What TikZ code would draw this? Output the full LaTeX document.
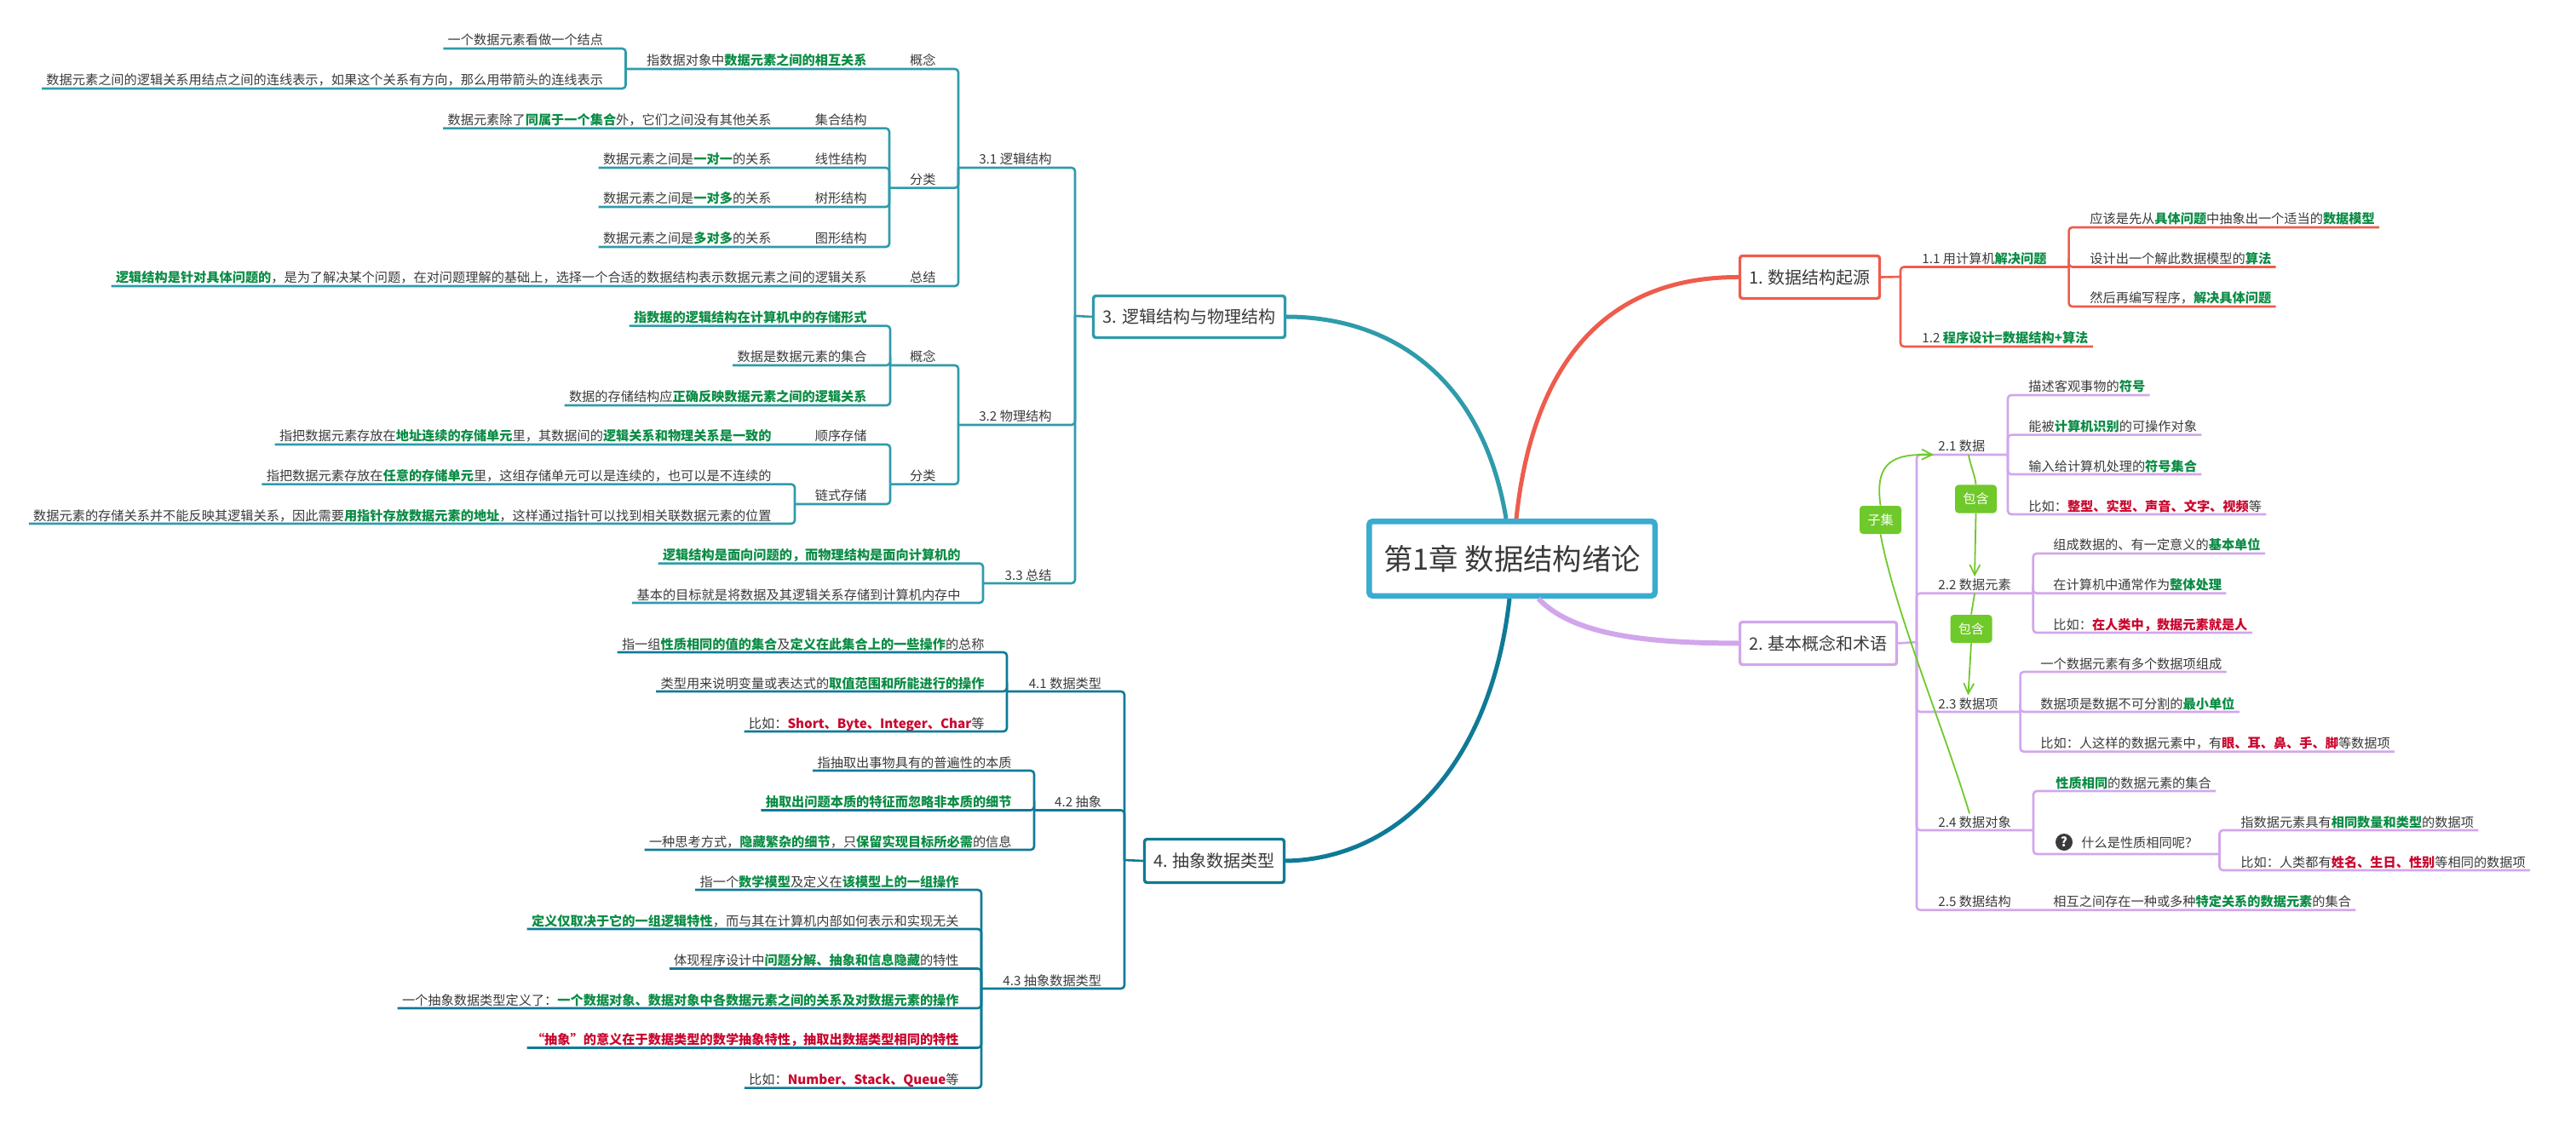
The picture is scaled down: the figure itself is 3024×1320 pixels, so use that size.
\documentclass[tikz,border=0pt]{standalone}
\usepackage{fontspec}
\setmainfont{Noto Sans CJK SC}
\usetikzlibrary{arrows.meta}
\definecolor{textgray}{HTML}{3A3A3A}
\definecolor{hlgreen}{HTML}{0B8C45}
\definecolor{hlred}{HTML}{C9062E}
\definecolor{maincol}{HTML}{3AACD0}
\definecolor{redcol}{HTML}{EE5C4D}
\definecolor{purplecol}{HTML}{D2A6EC}
\definecolor{tealcol}{HTML}{2F9BAA}
\definecolor{bluecol}{HTML}{0F7A96}
\definecolor{relcol}{HTML}{6FC92A}
\newcommand{\hlg}[1]{{\bfseries\color{hlgreen}#1}}
\newcommand{\hlr}[1]{{\bfseries\color{hlred}#1}}
\tikzset{
	tnode/.style={inner xsep=2.5pt,inner ysep=.6pt,text=textgray,text height=7pt,text depth=1.2pt,font=\fontsize{7.6pt}{9pt}\selectfont},
	lnode/.style={tnode,anchor=south east},
	rnode/.style={tnode,anchor=south west},
	mnode/.style={rectangle,draw,fill=white,rounded corners=1.5pt,line width=1.7pt,text=textgray,font=\fontsize{10pt}{12pt}\selectfont},
	rel/.style={rectangle,fill=relcol,rounded corners=2pt,text=white,inner sep=0pt,minimum width=24.5pt,minimum height=16.5pt,font=\fontsize{7.6pt}{9pt}\selectfont},
	relline/.style={draw=relcol,line width=.9pt},
	line1/.style={draw=redcol,line width=1.3pt,rounded corners=2pt},
	line2/.style={draw=purplecol,line width=1.3pt,rounded corners=2pt},
	line3/.style={draw=tealcol,line width=1.3pt,rounded corners=2pt},
	line4/.style={draw=bluecol,line width=1.3pt,rounded corners=2pt}
}
\begin{document}
\begin{tikzpicture}[x=.5pt,y=-.5pt]
	\useasboundingbox (0,0) rectangle (3024,1320);
	\node[mnode,draw=maincol,line width=3.25pt,minimum width=167.75pt,minimum height=43.75pt,rounded corners=2pt,font=\fontsize{17.2pt}{20pt}\selectfont] (main) at (1775,656) {第1章 数据结构绪论};
	\node[mnode,draw=redcol,minimum width=82pt,minimum height=25pt] (n1) at (2124.5,325.5) {1. 数据结构起源};
	\node[mnode,draw=purplecol,minimum width=92pt,minimum height=25pt] (n2) at (2134.5,755.5) {2. 基本概念和术语};
	\node[mnode,draw=tealcol,minimum width=112.5pt,minimum height=24.5pt] (n3) at (1396,372) {3. 逻辑结构与物理结构};
	\node[mnode,draw=bluecol,minimum width=82pt,minimum height=25.5pt] (n4) at (1425.5,1011) {4. 抽象数据类型};

	\draw[redcol,line width=2.5pt] ([xshift=2.5pt]main.north) .. controls (1800,420) and (1890,325) .. (n1.west);
	\draw[purplecol,line width=3pt] ([xshift=15.5pt]main.south) .. controls (1850,750) and (1950,755) .. (n2.west);
	\draw[tealcol,line width=2.5pt] ([xshift=-3.5pt]main.north) .. controls (1740,440) and (1630,372) .. (n3.east);
	\draw[bluecol,line width=2.5pt] ([xshift=-1.5pt]main.south) .. controls (1750,900) and (1640,1009) .. (n4.east);

	\coordinate (j1) at (2231,325);
	\coordinate (j11) at (2428.6,313.5);
	\node[rnode] (d11) at (2251,313.5) {1.1 用计算机\hlg{解决问题}};
	\node[rnode] (d12) at (2251,407) {1.2 \hlg{程序设计=数据结构+算法}};
	\node[rnode] (d11a) at (2448,267) {应该是先从\hlg{具体问题}中抽象出一个适当的\hlg{数据模型}};
	\node[rnode] (d11b) at (2448,313.5) {设计出一个解此数据模型的\hlg{算法}};
	\node[rnode] (d11c) at (2448,360) {然后再编写程序，\hlg{解决具体问题}};
	\draw[line1] (n1.east) -- (j1);
	\draw[line1] (j11) -| (j1);
	\draw[line1] (d12.south east) -| (j1);
	\draw[line1] (d11a.south east) -| (j11);
	\draw[line1] (d11b.south east) -| (j11);
	\draw[line1] (d11c.south east) -| (j11);

	\coordinate (j2) at (2250,754);
	\coordinate (j21) at (2357,534);
	\coordinate (j22) at (2386.7,696.7);
	\coordinate (j23) at (2371.6,836);
	\coordinate (j24) at (2387,975);
	\coordinate (j24q) at (2605.5,1003);
	\node[rnode] (d21) at (2270,534) {2.1 数据};
	\node[rnode] (d22) at (2270,696.7) {2.2 数据元素};
	\node[rnode] (d23) at (2270,836) {2.3 数据项};
	\node[rnode] (d24) at (2270,975) {2.4 数据对象};
	\node[rnode] (d25) at (2270,1068.7) {2.5 数据结构};
	\node[rnode] (d21a) at (2376,464) {描述客观事物的\hlg{符号}};
	\node[rnode] (d21b) at (2376,510.7) {能被\hlg{计算机识别}的可操作对象};
	\node[rnode] (d21c) at (2376,557) {输入给计算机处理的\hlg{符号集合}};
	\node[rnode] (d21d) at (2376,604) {比如：\hlr{整型、实型、声音、文字、视频}等};
	\node[rnode] (d22a) at (2405,650) {组成数据的、有一定意义的\hlg{基本单位}};
	\node[rnode] (d22b) at (2405,696.7) {在计算机中通常作为\hlg{整体处理}};
	\node[rnode] (d22c) at (2405,743) {比如：\hlr{在人类中，数据元素就是人}};
	\node[rnode] (d23a) at (2390,789) {一个数据元素有多个数据项组成};
	\node[rnode] (d23b) at (2390,836) {数据项是数据不可分割的\hlg{最小单位}};
	\node[rnode] (d23c) at (2390,882.7) {比如：人这样的数据元素中，有\hlr{眼、耳、鼻、手、脚}等数据项};
	\node[rnode] (d24a) at (2408,929) {\hlg{性质相同}的数据元素的集合};
	\node[rnode] (d24b) at (2438,999) {什么是性质相同呢？};
	\node[circle,fill=textgray,text=white,inner sep=0pt,minimum size=10pt,font=\fontsize{7.6pt}{9pt}\bfseries\selectfont] (qicon) at (2423,989) {?};
	\node[rnode] (d24c) at (2625,975) {指数据元素具有\hlg{相同数量和类型}的数据项};
	\node[rnode] (d24d) at (2625,1022) {比如：人类都有\hlr{姓名、生日、性别}等相同的数据项};
	\node[rnode] (d25a) at (2405,1068.7) {相互之间存在一种或多种\hlg{特定关系的数据元素}的集合};
	\draw[line2] (n2.east) -- (j2);
	\draw[line2] (j21) -| (j2);
	\draw[line2] (j22) -| (j2);
	\draw[line2] (j23) -| (j2);
	\draw[line2] (j24) -| (j2);
	\draw[line2] (d25a.south east) -- (d25.south west) -| (j2);
	\draw[line2] (d21a.south east) -| (j21);
	\draw[line2] (d21b.south east) -| (j21);
	\draw[line2] (d21c.south east) -| (j21);
	\draw[line2] (d21d.south east) -| (j21);
	\draw[line2] (d22a.south east) -| (j22);
	\draw[line2] (d22b.south east) -| (j22);
	\draw[line2] (d22c.south east) -| (j22);
	\draw[line2] (d23a.south east) -| (j23);
	\draw[line2] (d23b.south east) -| (j23);
	\draw[line2] (d23c.south east) -| (j23);
	\draw[line2] (d24a.south east) -| (j24);
	\draw[line2] (j24q) -| (j24);
	\draw[line2] (d24c.south east) -| (j24q);
	\draw[line2] (d24d.south east) -| (j24q);

	\node[rel] (rela) at (2319.5,586) {包含};
	\node[rel] (relb) at (2314,738.5) {包含};
	\node[rel] (relc) at (2207.5,610.5) {子集};
	\draw[relline] ([xshift=4pt]d21.south) .. controls (2314,550) and (2319,560) .. (rela.north);
	\draw[relline,-{Straight Barb[length=6pt,width=6pt]}] (rela.south) -- (d22.north);
	\draw[relline] (d22.south) -- (relb.north);
	\draw[relline,-{Straight Barb[length=6pt,width=6pt]}] (relb.south) -- (d23.north);
	\draw[relline] ([xshift=-3pt]d24.north) .. controls (2280,850) and (2225,720) .. (relc.south);
	\draw[relline,-{Straight Barb[length=6pt,width=6pt]}] (relc.north) .. controls (2200,540) and (2225,533) .. (d21.south west);

	\coordinate (j3) at (1262,371);
	\coordinate (j31) at (1125,197);
	\coordinate (j31a) at (734.5,81);
	\coordinate (j31b) at (1044,220.7);
	\coordinate (j32) at (1125,499);
	\coordinate (j32a) at (1045,429);
	\coordinate (j32b) at (1045,568.7);
	\coordinate (j32c) at (933,592);
	\coordinate (j33) at (1154,685);
	\node[lnode] (c31) at (1240,197) {3.1 逻辑结构};
	\node[lnode] (c32) at (1240,499) {3.2 物理结构};
	\node[lnode] (c33) at (1240,685) {3.3 总结};
	\node[lnode] (c31a) at (1104,81) {概念};
	\node[lnode] (c31b) at (1104,220.7) {分类};
	\node[lnode] (c31c) at (1104,336) {总结};
	\node[lnode] (c31d) at (1023,81) {指数据对象中\hlg{数据元素之间的相互关系}};
	\node[lnode] (c31e) at (713.5,57) {一个数据元素看做一个结点};
	\node[lnode] (c31f) at (713.5,104) {数据元素之间的逻辑关系用结点之间的连线表示，如果这个关系有方向，那么用带箭头的连线表示};
	\node[lnode] (s1) at (1023,150.7) {集合结构};
	\node[lnode] (s2) at (1023,197) {线性结构};
	\node[lnode] (s3) at (1023,243) {树形结构};
	\node[lnode] (s4) at (1023,290) {图形结构};
	\node[lnode] (s1a) at (911,150.7) {数据元素除了\hlg{同属于一个集合}外，它们之间没有其他关系};
	\node[lnode] (s2a) at (911,197) {数据元素之间是\hlg{一对一}的关系};
	\node[lnode] (s3a) at (911,243) {数据元素之间是\hlg{一对多}的关系};
	\node[lnode] (s4a) at (911,290) {数据元素之间是\hlg{多对多}的关系};
	\node[lnode] (c31g) at (1023,336) {\hlg{逻辑结构是针对具体问题的}，是为了解决某个问题，在对问题理解的基础上，选择一个合适的数据结构表示数据元素之间的逻辑关系};
	\node[lnode] (c32a) at (1104,429) {概念};
	\node[lnode] (c32b) at (1104,568.7) {分类};
	\node[lnode] (c32d) at (1023,382.7) {\hlg{指数据的逻辑结构在计算机中的存储形式}};
	\node[lnode] (c32e) at (1023,429) {数据是数据元素的集合};
	\node[lnode] (c32f) at (1023,476) {数据的存储结构应\hlg{正确反映数据元素之间的逻辑关系}};
	\node[lnode] (p1) at (1023,522) {顺序存储};
	\node[lnode] (p2) at (1023,592) {链式存储};
	\node[lnode] (p1a) at (911,522) {指把数据元素存放在\hlg{地址连续的存储单元}里，其数据间的\hlg{逻辑关系和物理关系是一致的}};
	\node[lnode] (p2a) at (911,568.7) {指把数据元素存放在\hlg{任意的存储单元}里，这组存储单元可以是连续的，也可以是不连续的};
	\node[lnode] (p2b) at (911,615) {数据元素的存储关系并不能反映其逻辑关系，因此需要\hlg{用指针存放数据元素的地址}，这样通过指针可以找到相关联数据元素的位置};
	\node[lnode] (c33a) at (1133,661.7) {\hlg{逻辑结构是面向问题的，而物理结构是面向计算机的}};
	\node[lnode] (c33b) at (1133,708) {基本的目标就是将数据及其逻辑关系存储到计算机内存中};
	\draw[line3] (j3) -- (n3.west);
	\draw[line3] (j31) -| (j3);
	\draw[line3] (j32) -| (j3);
	\draw[line3] (j33) -| (j3);
	\draw[line3] (j31a) -- (c31a.south west) -| (j31);
	\draw[line3] (j31b) -| (j31);
	\draw[line3] (c31g.south west) -- (c31c.south west) -| (j31);
	\draw[line3] (c31e.south west) -| (j31a);
	\draw[line3] (c31f.south west) -| (j31a);
	\draw[line3] (s1a.south west) -- (s1.south west) -| (j31b);
	\draw[line3] (s2a.south west) -- (s2.south west) -| (j31b);
	\draw[line3] (s3a.south west) -- (s3.south west) -| (j31b);
	\draw[line3] (s4a.south west) -- (s4.south west) -| (j31b);
	\draw[line3] (j32a) -| (j32);
	\draw[line3] (j32b) -| (j32);
	\draw[line3] (c32d.south west) -| (j32a);
	\draw[line3] (c32e.south west) -| (j32a);
	\draw[line3] (c32f.south west) -| (j32a);
	\draw[line3] (p1a.south west) -- (p1.south west) -| (j32b);
	\draw[line3] (j32c) -| (j32b);
	\draw[line3] (p2a.south west) -| (j32c);
	\draw[line3] (p2b.south west) -| (j32c);
	\draw[line3] (c33a.south west) -| (j33);
	\draw[line3] (c33b.south west) -| (j33);

	\coordinate (j4) at (1320,1010);
	\coordinate (j41) at (1182,812);
	\coordinate (j42) at (1214,951.5);
	\coordinate (j43) at (1152,1161);
	\node[lnode] (t41) at (1298.5,812) {4.1 数据类型};
	\node[lnode] (t42) at (1298.5,951.5) {4.2 抽象};
	\node[lnode] (t43) at (1298.5,1161) {4.3 抽象数据类型};
	\node[lnode] (t41a) at (1161,766) {指一组\hlg{性质相同的值的集合}及\hlg{定义在此集合上的一些操作}的总称};
	\node[lnode] (t41b) at (1161,812) {类型用来说明变量或表达式的\hlg{取值范围和所能进行的操作}};
	\node[lnode] (t41c) at (1161,859) {比如：\hlr{Short、Byte、Integer、Char}等};
	\node[lnode] (t42a) at (1193,905) {指抽取出事物具有的普遍性的本质};
	\node[lnode] (t42b) at (1193,951.5) {\hlg{抽取出问题本质的特征而忽略非本质的细节}};
	\node[lnode] (t42c) at (1193,998) {一种思考方式，\hlg{隐藏繁杂的细节}，只\hlg{保留实现目标所必需}的信息};
	\node[lnode] (t43a) at (1131,1045) {指一个\hlg{数学模型}及定义在\hlg{该模型上的一组操作}};
	\node[lnode] (t43b) at (1131,1091) {\hlg{定义仅取决于它的一组逻辑特性}，而与其在计算机内部如何表示和实现无关};
	\node[lnode] (t43c) at (1131,1137.5) {体现程序设计中\hlg{问题分解、抽象和信息隐藏}的特性};
	\node[lnode] (t43d) at (1131,1184) {一个抽象数据类型定义了：\hlg{一个数据对象、数据对象中各数据元素之间的关系及对数据元素的操作}};
	\node[lnode] (t43e) at (1131,1230.5) {\hlr{“抽象”的意义在于数据类型的数学抽象特性，抽取出数据类型相同的特性}};
	\node[lnode] (t43f) at (1131,1277.6) {比如：\hlr{Number、Stack、Queue}等};
	\draw[line4] (j4) -- (n4.west);
	\draw[line4] (j41) -| (j4);
	\draw[line4] (j42) -| (j4);
	\draw[line4] (j43) -| (j4);
	\draw[line4] (t41a.south west) -| (j41);
	\draw[line4] (t41b.south west) -| (j41);
	\draw[line4] (t41c.south west) -| (j41);
	\draw[line4] (t42a.south west) -| (j42);
	\draw[line4] (t42b.south west) -| (j42);
	\draw[line4] (t42c.south west) -| (j42);
	\draw[line4] (t43a.south west) -| (j43);
	\draw[line4] (t43b.south west) -| (j43);
	\draw[line4] (t43c.south west) -| (j43);
	\draw[line4] (t43d.south west) -| (j43);
	\draw[line4] (t43e.south west) -| (j43);
	\draw[line4] (t43f.south west) -| (j43);
\end{tikzpicture}
\end{document}
